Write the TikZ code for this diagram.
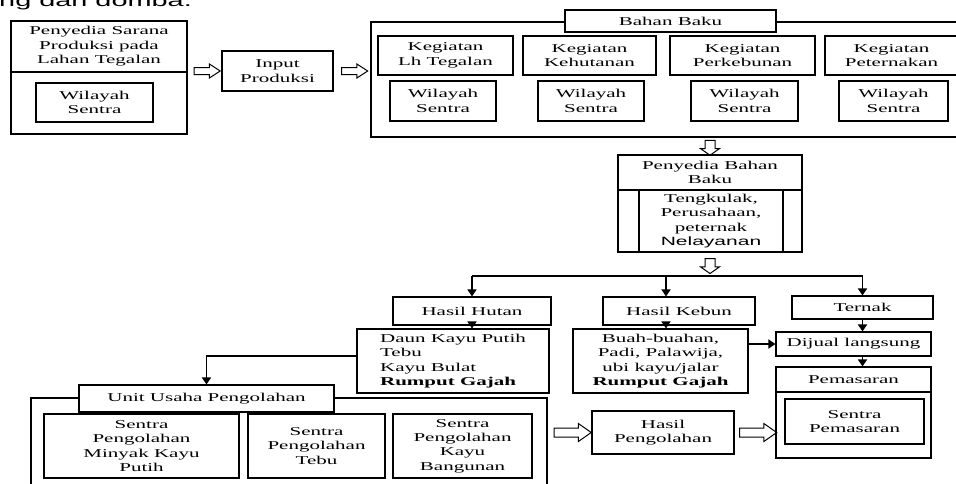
\documentclass[tikz,border=0pt]{standalone}
\usepackage{fontspec}
\setmainfont{Liberation Serif}[FakeStretch=1.75]
\newfontfamily\sansstretch{Liberation Sans}[FakeStretch=1.75]
\usetikzlibrary{arrows.meta,shapes.arrows}

\begin{document}
\begin{tikzpicture}[x=1pt,y=-1pt,
  kotak/.style={draw,line width=1.1pt,inner sep=1pt,align=center,font=\fontsize{12}{14.4}\selectfont},
  judul/.style={kotak,fill=white},
  teks/.style={inner sep=0pt,align=center,font=\fontsize{12}{14.4}\selectfont},
  bingkai/.style={draw,line width=1.1pt},
  panah/.style={line width=1.6pt,-{Triangle[width=9pt,length=7pt]}},
  garis/.style={line width=1.3pt},
  blok/.style={single arrow,draw,line width=1pt,inner xsep=0pt,single arrow head indent=0pt},
  blokh/.style={blok,minimum height=26pt,inner ysep=3pt,single arrow head extend=3.5pt,single arrow tip angle=66},
  blokv/.style={blok,minimum height=15pt,inner ysep=4.5pt,single arrow head extend=4.5pt,single arrow tip angle=110},
  blokb/.style={blok,minimum height=37pt,inner ysep=4pt,single arrow head extend=4.5pt,single arrow tip angle=70}]
\useasboundingbox (0,0) rectangle (956,483);

\node[anchor=base west,inner sep=0pt,font=\sansstretch\fontsize{16.5}{20}\selectfont] (kepala) at (-1,6) {ng dan domba.};

% sarana produksi
\node[bingkai,minimum width=176pt,minimum height=113pt,inner sep=0pt] (sarana) at (99,77.5) {};
\draw[bingkai] (11,72) -- (187,72);
\node[teks] (saranateks) at (99,46.5) {Penyedia Sarana\\Produksi pada\\Lahan Tegalan};
\node[kotak,minimum width=117pt,minimum height=39pt] (wil0) at (94.5,102.5) {Wilayah\\Sentra};
\node[kotak,minimum width=111pt,minimum height=40pt] (input) at (277.5,71) {Input\\Produksi};

% bahan baku
\node[bingkai,minimum width=599pt,minimum height=115pt,inner sep=0pt] (bahan) at (670.5,79.5) {};
\node[judul,minimum width=211pt,minimum height=22pt] (bahanjudul) at (670.5,21) {Bahan Baku};
\node[kotak,minimum width=135pt,minimum height=39pt] (keg1) at (445.5,55.5) {Kegiatan\\Lh Tegalan};
\node[kotak,minimum width=133pt,minimum height=39pt] (keg2) at (589.5,55.5) {Kegiatan\\Kehutanan};
\node[kotak,minimum width=145pt,minimum height=39pt] (keg3) at (742.5,55.5) {Kegiatan\\Perkebunan};
\node[kotak,minimum width=133pt,minimum height=39pt] (keg4) at (891.5,55.5) {Kegiatan\\Peternakan};
\node[kotak,minimum width=106pt,minimum height=40pt] (wil1) at (443,101) {Wilayah\\Sentra};
\node[kotak,minimum width=106pt,minimum height=40pt] (wil2) at (591,101) {Wilayah\\Sentra};
\node[kotak,minimum width=107pt,minimum height=40pt] (wil3) at (744.5,101) {Wilayah\\Sentra};
\node[kotak,minimum width=109pt,minimum height=40pt] (wil4) at (893.5,101) {Wilayah\\Sentra};

% penyedia bahan baku
\node[bingkai,minimum width=184pt,minimum height=97pt,inner sep=0pt] (penyedia) at (710,203.5) {};
\draw[bingkai] (618,190) -- (802,190);
\node[teks] (penyediateks) at (710,172.5) {Penyedia Bahan\\Baku};
\node[kotak,minimum width=144pt,minimum height=62pt,inner sep=0pt] (tengkulak) at (711,221) {Tengkulak,\\Perusahaan,\\peternak\\{\sansstretch Nelayanan}};

% hasil
\coordinate (cabang) at (666,276);
\node[kotak,minimum width=158pt,minimum height=28pt] (hutan) at (472,311) {Hasil Hutan};
\node[kotak,minimum width=152pt,minimum height=28pt] (kebun) at (679,311) {Hasil Kebun};
\node[kotak,minimum width=141pt,minimum height=23pt] (ternak) at (862.5,307.5) {Ternak};
\node[kotak,minimum width=192pt,minimum height=64pt,inner sep=0pt,align=left] (daun) at (453,361) {Daun Kayu Putih\\Tebu\\Kayu Bulat\\\textbf{Rumput Gajah}};
\node[kotak,minimum width=175pt,minimum height=64pt,inner sep=0pt] (buah) at (660.5,361) {Buah-buahan,\\Padi, Palawija,\\ubi kayu/jalar\\\textbf{Rumput Gajah}};
\node[kotak,minimum width=155pt,minimum height=24pt] (dijual) at (853.5,344) {Dijual langsung};

% pemasaran
\node[bingkai,minimum width=155pt,minimum height=91pt,inner sep=0pt] (pasar) at (853.5,412.5) {};
\draw[bingkai] (776,392) -- (931,392);
\node[teks] (pasarteks) at (853.5,379.5) {Pemasaran};
\node[kotak,minimum width=139pt,minimum height=45pt] (sentrapasar) at (854.5,421.5) {Sentra\\Pemasaran};
\node[kotak,minimum width=142pt,minimum height=43pt] (hasilolah) at (663,432.5) {Hasil\\Pengolahan};

% unit usaha pengolahan
\node[bingkai,minimum width=516pt,minimum height=102pt,inner sep=0pt] (unit) at (289,449) {};
\node[judul,minimum width=255pt,minimum height=27pt] (unitjudul) at (206.5,398.5) {Unit Usaha Pengolahan};
\node[kotak,minimum width=195pt,minimum height=64pt,inner sep=0pt] (minyak) at (141.5,446) {Sentra\\Pengolahan\\Minyak Kayu\\Putih};
\node[kotak,minimum width=137pt,minimum height=64pt,inner sep=0pt] (tebu) at (316.5,446) {Sentra\\Pengolahan\\Tebu};
\node[kotak,minimum width=139pt,minimum height=64pt,inner sep=0pt] (bangunan) at (462.5,446) {Sentra\\Pengolahan\\Kayu\\Bangunan};

% panah blok
\path (sarana.east |- input.west) -- (input.west) node[midway,sloped,blokh] (p1) {};
\path (input.east) -- (input.east -| bahan.west) node[midway,sloped,blokh] (p2) {};
\path (bahan.south -| penyedia.north) -- (penyedia.north) node[midway,sloped,blokv] (p3) {};
\path (penyedia.south) -- (penyedia.south |- cabang) node[midway,sloped,blokv] (p4) {};
\path (unit.east |- hasilolah.west) -- (hasilolah.west) node[midway,sloped,blokb] (p5) {};
\path (hasilolah.east) -- (hasilolah.east -| pasar.west) node[midway,sloped,blokb] (p6) {};

% panah
\draw[garis] (hutan.north |- cabang) -- (ternak.north |- cabang);
\draw[panah] (hutan.north |- cabang) -- (hutan.north);
\draw[panah] (cabang) -- (cabang |- kebun.north);
\draw[panah] (ternak.north |- cabang) -- (ternak.north);
\draw[panah] (hutan.south) -- (hutan.south |- daun.north);
\draw[panah] (cabang |- kebun.south) -- (cabang |- buah.north);
\draw[panah] (ternak.south) -- (ternak.south |- dijual.north);
\draw[panah] (buah.east |- dijual.west) -- (dijual.west);
\draw[panah] (ternak.south |- dijual.south) -- (ternak.south |- pasar.north);
\draw[panah] ([yshift=5pt]daun.west) -| (unitjudul.north);

\end{tikzpicture}
\end{document}
